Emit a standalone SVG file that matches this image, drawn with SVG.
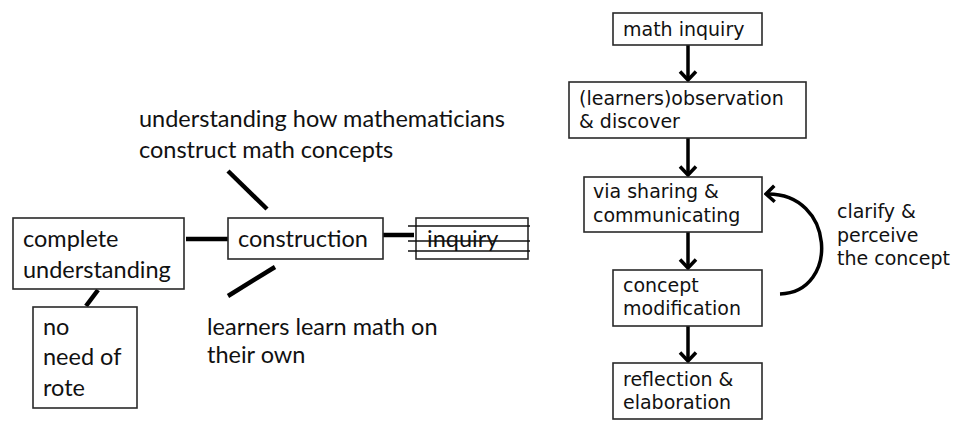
<svg xmlns="http://www.w3.org/2000/svg" width="966" height="421" viewBox="0 0 966 421">
<defs>
<style>
.box{fill:#fff;stroke:#2a2a2a;stroke-width:1.6}
.lt{font-family:Lato,"Liberation Sans",sans-serif;font-size:23.5px;fill:#111}
.rt{font-family:"DejaVu Sans","Open Sans",sans-serif;font-size:19px;fill:#111}
.thick{stroke:#000;stroke-width:4.5;stroke-linecap:butt;fill:none}
.arr{stroke:#000;stroke-width:3.5;fill:none}
.strike{stroke:#111;stroke-width:1.6}
</style>
<marker id="chev" viewBox="-10 -10 12 20" markerWidth="12" markerHeight="20" refX="0" refY="0" orient="auto" markerUnits="userSpaceOnUse">
<path d="M-8.5,-8 L0,0 L-8.5,8" fill="none" stroke="#000" stroke-width="3.5"/>
</marker>
</defs>
<rect width="966" height="421" fill="#fff"/>

<g id="connectors">
<line class="thick" x1="186" y1="239" x2="228" y2="239"/>
<line class="thick" x1="383" y1="235" x2="414" y2="235"/>
<line class="thick" x1="98" y1="290" x2="86" y2="306"/>
<line class="thick" x1="228" y1="171" x2="267" y2="209"/>
<line class="thick" x1="275" y1="267" x2="228" y2="296"/>
<line class="arr" x1="688" y1="45" x2="688" y2="80" marker-end="url(#chev)"/>
<line class="arr" x1="688" y1="138" x2="688" y2="175" marker-end="url(#chev)"/>
<line class="arr" x1="688" y1="232" x2="688" y2="268" marker-end="url(#chev)"/>
<line class="arr" x1="688" y1="326" x2="688" y2="361" marker-end="url(#chev)"/>
<path class="arr" d="M780,294 C840,292 835,192 766,194" marker-end="url(#chev)"/>
</g>

<g id="label-top">
<text class="lt" x="139" y="127">understanding how mathematicians</text>
<text class="lt" x="139" y="158">construct math concepts</text>
</g>
<g id="label-bottom">
<text class="lt" x="207" y="335">learners learn math on</text>
<text class="lt" x="207" y="363">their own</text>
</g>

<g id="node-complete">
<rect class="box" x="13" y="218" width="171" height="71"/>
<text class="lt" x="23" y="247">complete</text>
<text class="lt" x="23" y="278">understanding</text>
</g>
<g id="node-norote">
<rect class="box" x="33" y="307" width="104" height="101"/>
<text class="lt" x="43" y="335">no</text>
<text class="lt" x="43" y="365">need of</text>
<text class="lt" x="43" y="396">rote</text>
</g>
<g id="node-construction">
<rect class="box" x="228" y="218" width="155" height="41"/>
<text class="lt" x="238" y="247">construction</text>
</g>
<g id="node-inquiry">
<rect class="box" x="416" y="218" width="112" height="41"/>
<text class="lt" x="427" y="247">inquiry</text>
<line class="strike" x1="408" y1="226" x2="530" y2="226"/>
<line class="strike" x1="408" y1="241" x2="530" y2="241"/>
<line class="strike" x1="408" y1="251" x2="530" y2="251"/>
</g>

<g id="node-math-inquiry">
<rect class="box" x="613" y="13" width="149" height="32"/>
<text class="rt" x="623" y="36">math inquiry</text>
</g>
<g id="node-observation">
<rect class="box" x="569" y="82" width="237" height="56"/>
<text class="rt" x="579" y="105">(learners)observation</text>
<text class="rt" x="579" y="128">&amp; discover</text>
</g>
<g id="node-sharing">
<rect class="box" x="584" y="177" width="178" height="55"/>
<text class="rt" x="593" y="198">via sharing &amp;</text>
<text class="rt" x="593" y="222">communicating</text>
</g>
<g id="node-modification">
<rect class="box" x="613" y="270" width="149" height="56"/>
<text class="rt" x="623" y="292">concept</text>
<text class="rt" x="623" y="315">modification</text>
</g>
<g id="node-reflection">
<rect class="box" x="613" y="363" width="149" height="56"/>
<text class="rt" x="623" y="386">reflection &amp;</text>
<text class="rt" x="623" y="409">elaboration</text>
</g>
<g id="label-clarify">
<text class="rt" x="837" y="218">clarify &amp;</text>
<text class="rt" x="837" y="242">perceive</text>
<text class="rt" x="837" y="265">the concept</text>
</g>
</svg>
